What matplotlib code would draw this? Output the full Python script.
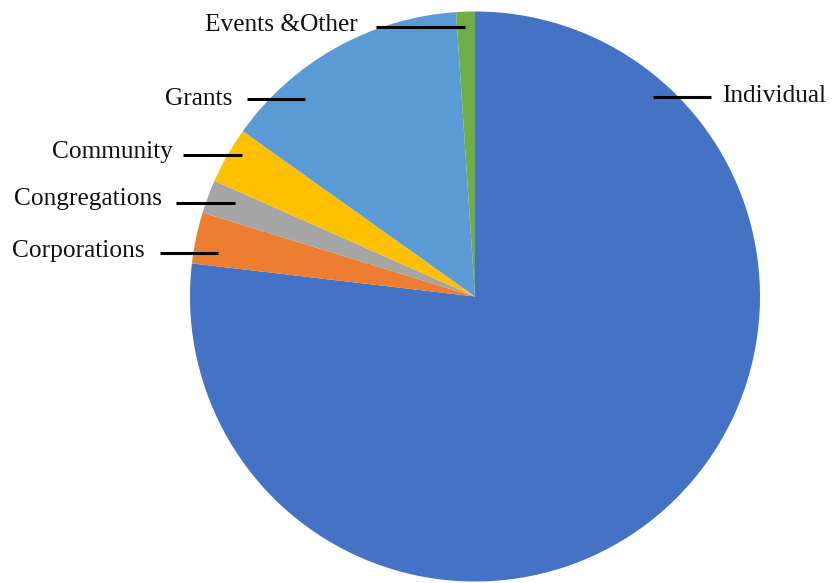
import matplotlib
matplotlib.use("Agg")
import matplotlib.pyplot as plt

categories = ["Individual", "Corporations", "Congregations", "Community", "Grants", "Events &Other"]
values = [76.9, 2.9, 1.9, 3.2, 14.1, 1.06]
colors = ["#4472C4", "#ED7D31", "#A5A5A5", "#FFC000", "#5B9BD5", "#70AD47"]

W, H = 838, 583
fig = plt.figure(figsize=(W / 100, H / 100), dpi=100)
ax = fig.add_axes([0, 0, 1, 1])

cx, cy, r = 475, 296.5, 285
# y axis is inverted below, so data-counterclockwise from -90 reads clockwise from the top
ax.pie(values, colors=colors, startangle=-90, counterclock=True,
       center=(cx, cy), radius=r, frame=True,
       wedgeprops=dict(linewidth=0))
ax.set_xlim(0, W)
ax.set_ylim(H, 0)
ax.set_aspect("equal")
ax.axis("off")

# label layout: (line x0, line x1, line y, text x, text baseline y, ha)
label_layout = {
    "Individual": (653, 711, 97, 722, 102, "left"),
    "Corporations": (160, 218, 253, 145, 257, "right"),
    "Congregations": (176, 235, 203, 162, 205, "right"),
    "Community": (183, 242, 155, 173, 158, "right"),
    "Grants": (247, 305, 99, 232, 105, "right"),
    "Events &Other": (376, 465, 27, 358, 31, "right"),
}
for name in categories:
    x0, x1, ly, tx, ty, ha = label_layout[name]
    ax.plot([x0, x1], [ly, ly], color="black", linewidth=2.2, solid_capstyle="butt")
    ax.text(tx, ty, name, ha=ha, va="baseline", fontsize=18.3,
            family="Liberation Serif", color="#111111")

fig.savefig("out.png", dpi=100)
